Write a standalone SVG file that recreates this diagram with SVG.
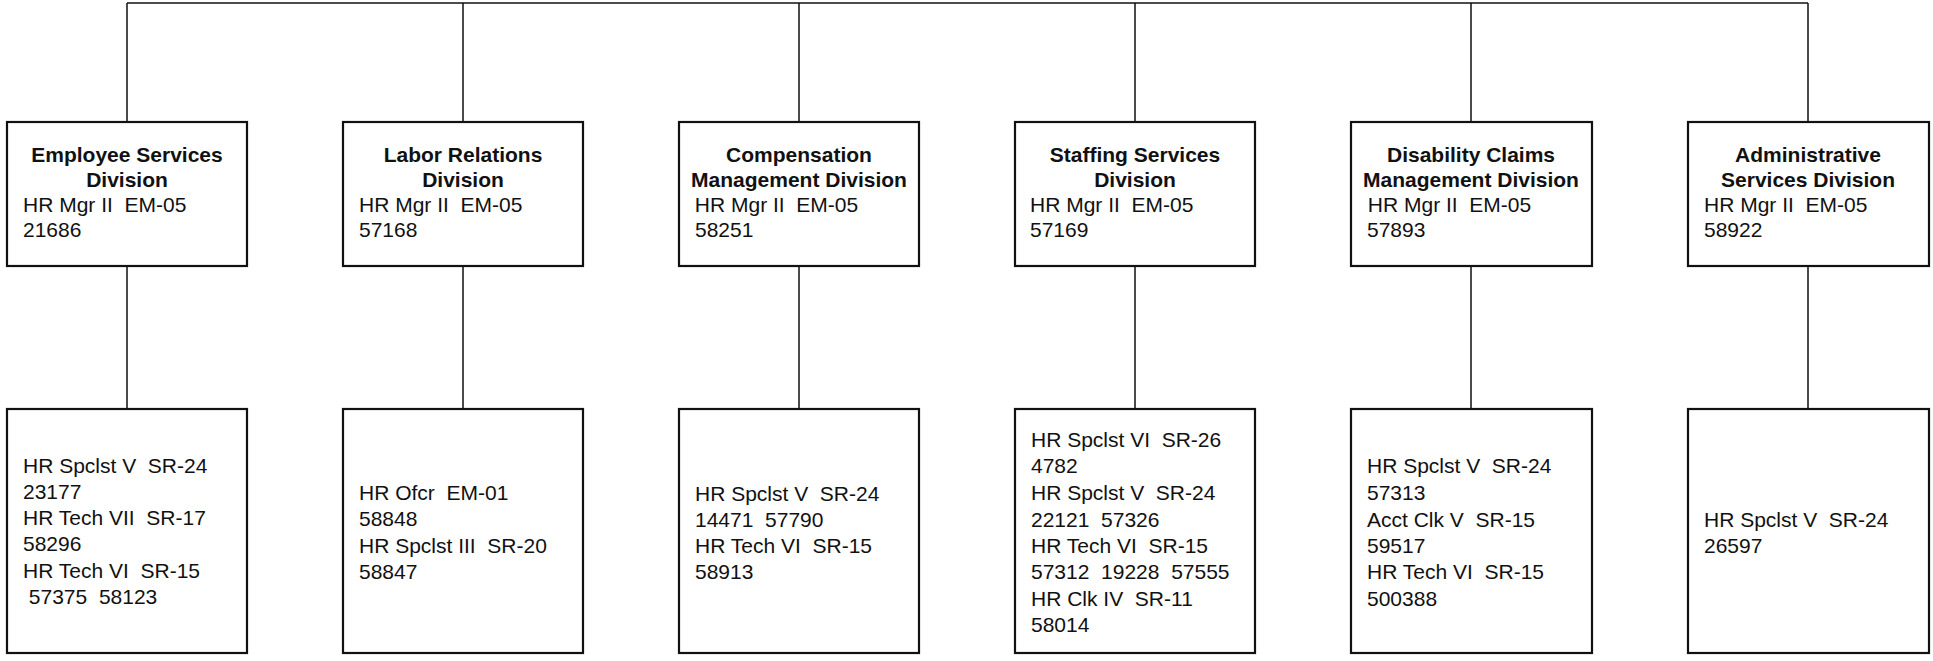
<svg xmlns="http://www.w3.org/2000/svg" width="1933" height="661" viewBox="0 0 1933 661">
<style>
  .bg { fill: #ffffff; }
  .box { fill: #ffffff; stroke: #111111; stroke-width: 2.2; }
  .conn { stroke: #111111; stroke-width: 1.5; fill: none; }
  text { font-family: "Liberation Sans", Arial, sans-serif; font-size: 21px; fill: #111111; white-space: pre; }
  .title { font-weight: bold; text-anchor: middle; }
</style>
<rect class="bg" x="0" y="0" width="1933" height="661"/>
<g id="connectors">
  <path class="conn" d="M127 3 H1808"/>
  <path class="conn" d="M127 3 V122 M463 3 V122 M799 3 V122 M1135 3 V122 M1471 3 V122 M1808 3 V122"/>
  <path class="conn" d="M127 266 V409 M463 266 V409 M799 266 V409 M1135 266 V409 M1471 266 V409 M1808 266 V409"/>
</g>
<g id="div-employee-services">
  <rect class="box" x="7" y="122" width="240" height="144"/>
  <text class="title" x="127" y="162">Employee Services</text>
  <text class="title" x="127" y="187">Division</text>
  <text x="23" y="212" xml:space="preserve">HR Mgr II  EM-05</text>
  <text x="23" y="237">21686</text>
</g>
<g id="div-labor-relations">
  <rect class="box" x="343" y="122" width="240" height="144"/>
  <text class="title" x="463" y="162">Labor Relations</text>
  <text class="title" x="463" y="187">Division</text>
  <text x="359" y="212" xml:space="preserve">HR Mgr II  EM-05</text>
  <text x="359" y="237">57168</text>
</g>
<g id="div-compensation">
  <rect class="box" x="679" y="122" width="240" height="144"/>
  <text class="title" x="799" y="162">Compensation</text>
  <text class="title" x="799" y="187">Management Division</text>
  <text x="689" y="212" xml:space="preserve"> HR Mgr II  EM-05</text>
  <text x="695" y="237">58251</text>
</g>
<g id="div-staffing">
  <rect class="box" x="1015" y="122" width="240" height="144"/>
  <text class="title" x="1135" y="162">Staffing Services</text>
  <text class="title" x="1135" y="187">Division</text>
  <text x="1030" y="212" xml:space="preserve">HR Mgr II  EM-05</text>
  <text x="1030" y="237">57169</text>
</g>
<g id="div-disability">
  <rect class="box" x="1351" y="122" width="241" height="144"/>
  <text class="title" x="1471" y="162">Disability Claims</text>
  <text class="title" x="1471" y="187">Management Division</text>
  <text x="1362" y="212" xml:space="preserve"> HR Mgr II  EM-05</text>
  <text x="1367" y="237">57893</text>
</g>
<g id="div-administrative">
  <rect class="box" x="1688" y="122" width="241" height="144"/>
  <text class="title" x="1808" y="162">Administrative</text>
  <text class="title" x="1808" y="187">Services Division</text>
  <text x="1704" y="212" xml:space="preserve">HR Mgr II  EM-05</text>
  <text x="1704" y="237">58922</text>
</g>
<g id="staff-employee-services">
  <rect class="box" x="7" y="409" width="240" height="244"/>
  <text x="23" y="473" xml:space="preserve">HR Spclst V  SR-24</text>
  <text x="23" y="499">23177</text>
  <text x="23" y="525" xml:space="preserve">HR Tech VII  SR-17</text>
  <text x="23" y="551">58296</text>
  <text x="23" y="578" xml:space="preserve">HR Tech VI  SR-15</text>
  <text x="23" y="604" xml:space="preserve"> 57375  58123</text>
</g>
<g id="staff-labor-relations">
  <rect class="box" x="343" y="409" width="240" height="244"/>
  <text x="359" y="500" xml:space="preserve">HR Ofcr  EM-01</text>
  <text x="359" y="526">58848</text>
  <text x="359" y="553" xml:space="preserve">HR Spclst III  SR-20</text>
  <text x="359" y="579">58847</text>
</g>
<g id="staff-compensation">
  <rect class="box" x="679" y="409" width="240" height="244"/>
  <text x="695" y="501" xml:space="preserve">HR Spclst V  SR-24</text>
  <text x="695" y="527" xml:space="preserve">14471  57790</text>
  <text x="695" y="553" xml:space="preserve">HR Tech VI  SR-15</text>
  <text x="695" y="579">58913</text>
</g>
<g id="staff-staffing">
  <rect class="box" x="1015" y="409" width="240" height="244"/>
  <text x="1031" y="447" xml:space="preserve">HR Spclst VI  SR-26</text>
  <text x="1031" y="473">4782</text>
  <text x="1031" y="500" xml:space="preserve">HR Spclst V  SR-24</text>
  <text x="1031" y="527" xml:space="preserve">22121  57326</text>
  <text x="1031" y="553" xml:space="preserve">HR Tech VI  SR-15</text>
  <text x="1031" y="579" xml:space="preserve">57312  19228  57555</text>
  <text x="1031" y="606" xml:space="preserve">HR Clk IV  SR-11</text>
  <text x="1031" y="632">58014</text>
</g>
<g id="staff-disability">
  <rect class="box" x="1351" y="409" width="241" height="244"/>
  <text x="1367" y="473" xml:space="preserve">HR Spclst V  SR-24</text>
  <text x="1367" y="500">57313</text>
  <text x="1367" y="527" xml:space="preserve">Acct Clk V  SR-15</text>
  <text x="1367" y="553">59517</text>
  <text x="1367" y="579" xml:space="preserve">HR Tech VI  SR-15</text>
  <text x="1367" y="606">500388</text>
</g>
<g id="staff-administrative">
  <rect class="box" x="1688" y="409" width="241" height="244"/>
  <text x="1704" y="527" xml:space="preserve">HR Spclst V  SR-24</text>
  <text x="1704" y="553">26597</text>
</g>
</svg>
